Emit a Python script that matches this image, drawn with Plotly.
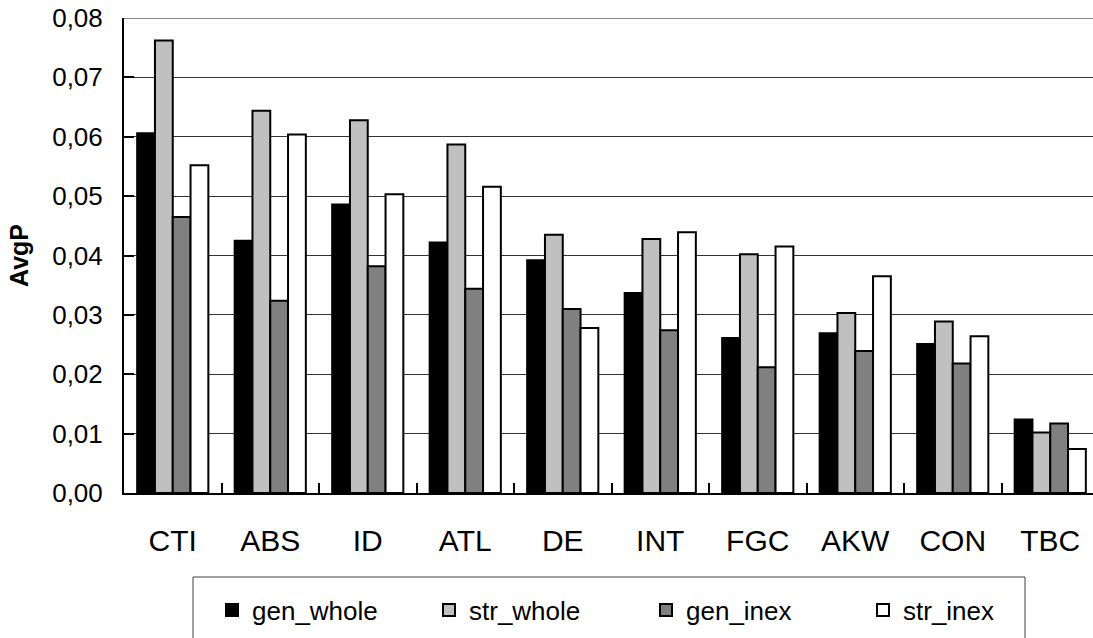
import plotly.graph_objects as go

categories = ["CTI", "ABS", "ID", "ATL", "DE", "INT", "FGC", "AKW", "CON", "TBC"]
gen_whole = [0.0606, 0.0425, 0.0486, 0.0422, 0.0392, 0.0337, 0.0261, 0.0269, 0.0251, 0.0124]
str_whole = [0.0762, 0.0644, 0.0628, 0.0587, 0.0435, 0.0428, 0.0402, 0.0303, 0.0289, 0.0102]
gen_inex = [0.0465, 0.0324, 0.0382, 0.0344, 0.0310, 0.0274, 0.0212, 0.0239, 0.0218, 0.0117]
str_inex = [0.0552, 0.0604, 0.0503, 0.0516, 0.0278, 0.0439, 0.0415, 0.0365, 0.0264, 0.0074]
y_ticks = [0.00, 0.01, 0.02, 0.03, 0.04, 0.05, 0.06, 0.07, 0.08]

series = [
    ("gen_whole", gen_whole, "#000000"),
    ("str_whole", str_whole, "#C0C0C0"),
    ("gen_inex", gen_inex, "#808080"),
    ("str_inex", str_inex, "#FFFFFF"),
]

FONT = "Liberation Sans, Arial, sans-serif"

fig = go.Figure()
for name, vals, color in series:
    fig.add_trace(go.Bar(
        name=name, x=categories, y=vals,
        marker=dict(color=color, line=dict(color="#000000", width=2)),
    ))

W, H = 1093, 638
L, T, B = 124, 18, 145

fig.update_layout(
    width=W, height=H,
    margin=dict(l=L, r=0, t=T, b=B, pad=0),
    paper_bgcolor="white", plot_bgcolor="white",
    barmode="group", bargap=0.27, bargroupgap=0,
    separators=",.",
    font=dict(family=FONT, color="#000000"),
    showlegend=True,
    legend=dict(
        orientation="h", xref="container", yref="container",
        x=212 / W, xanchor="left", y=1 - 610 / H, yanchor="middle",
        font=dict(family=FONT, size=26, color="#000000"),
        bgcolor="rgba(0,0,0,0)", borderwidth=0,
        entrywidth=172, entrywidthmode="pixels",
        traceorder="normal",
    ),
    xaxis=dict(
        type="category", range=[-0.5, 9.5 - 6 / 97.5],
        showline=True, linecolor="#000000", linewidth=2,
        ticks="inside", tickson="boundaries", ticklen=10, tickwidth=2, tickcolor="#000000",
        tickfont=dict(family=FONT, size=30, color="#000000"),
        ticklabelstandoff=20,
        showgrid=False, zeroline=False,
    ),
    yaxis=dict(
        range=[0, 0.08],
        tickvals=y_ticks, tickformat=".2f",
        showline=True, linecolor="#000000", linewidth=2,
        ticks="inside", ticklen=10, tickwidth=2, tickcolor="#000000",
        tickfont=dict(family=FONT, size=26, color="#000000"),
        ticklabelstandoff=14,
        showgrid=True, gridcolor="#333333", gridwidth=1,
        zeroline=False,
        title=dict(text="<b>AvgP</b>", font=dict(family=FONT, size=25, color="#000000"), standoff=16),
    ),
)

# top border of the plot area (gray)
fig.add_shape(type="line", xref="paper", yref="y", x0=0, x1=1, y0=0.08, y1=0.08,
              line=dict(color="#8c8c8c", width=2))

# legend frame (extends past the bottom of the picture)
fig.add_shape(type="rect", xref="paper", yref="paper",
              x0=(193 - L) / (W - L), x1=(1025 - L) / (W - L),
              y0=(H - B - 577) / (H - T - B), y1=(H - B - 660) / (H - T - B),
              line=dict(color="#404040", width=1), fillcolor="rgba(0,0,0,0)", layer="below")

fig.write_html("out.html")
